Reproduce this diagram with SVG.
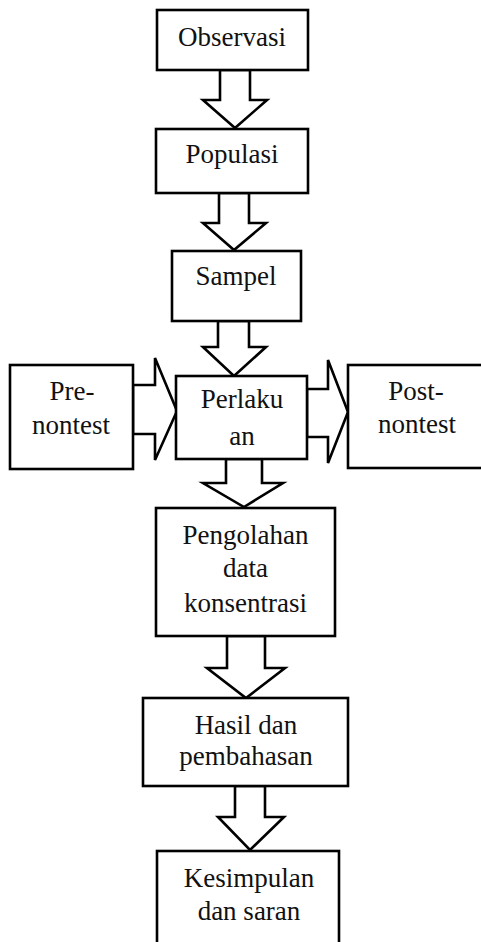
<svg xmlns="http://www.w3.org/2000/svg" width="481" height="942" viewBox="0 0 481 942">
<style>
.box{fill:#fff;stroke:#000;stroke-width:2.6}
.arr{fill:#fff;stroke:#000;stroke-width:2.6;stroke-linejoin:miter}
text{font-family:"Liberation Serif","Times New Roman",serif;font-size:27px;fill:#111;text-anchor:middle}
</style>
<rect width="481" height="942" fill="#fff"/>
<g id="connectors">
<polygon class="arr" points="220,70 220,100 203,100 235,128 267,100 250,100 250,70"/>
<polygon class="arr" points="219,193 219,223 203,223 234,250 266,223 249,223 249,193"/>
<polygon class="arr" points="218,321 218,347 203,347 234,376 266,347 249,347 249,321"/>
<polygon class="arr" points="226,459 226,483 203,483 244,507 283,483 262,483 262,459"/>
<polygon class="arr" points="227,636 227,668 207,668 246,698 285,668 265,668 265,636"/>
<polygon class="arr" points="235,786 235,817 218,817 250,850 284,817 265,817 265,786"/>
<polygon class="arr" points="133,385 155,385 155,358 177,411 155,460 155,434 133,434"/>
<polygon class="arr" points="307,389 328,389 328,360 348,412 328,463 328,437 307,437"/>
</g>
<g id="observasi"><rect class="box" x="157" y="10" width="151" height="60"/><text x="232" y="46">Observasi</text></g>
<g id="populasi"><rect class="box" x="156" y="129" width="152" height="64"/><text x="232" y="163">Populasi</text></g>
<g id="sampel"><rect class="box" x="172" y="251" width="129" height="70"/><text x="236" y="285">Sampel</text></g>
<g id="perlakuan"><rect class="box" x="176" y="376" width="131" height="83"/><text x="242" y="408">Perlaku</text><text x="242" y="445">an</text></g>
<g id="pre-nontest"><rect class="box" x="10" y="365" width="123" height="104"/><text x="72" y="400">Pre-</text><text x="71" y="434">nontest</text></g>
<g id="post-nontest"><rect class="box" x="348" y="365" width="140" height="103"/><text x="416" y="400">Post-</text><text x="417" y="433">nontest</text></g>
<g id="pengolahan"><rect class="box" x="156" y="508" width="179" height="128"/><text x="245.5" y="544">Pengolahan</text><text x="245.5" y="577">data</text><text x="245.5" y="612">konsentrasi</text></g>
<g id="hasil"><rect class="box" x="143" y="698" width="205" height="88"/><text x="246" y="734">Hasil dan</text><text x="246" y="765">pembahasan</text></g>
<g id="kesimpulan"><rect class="box" x="157" y="851" width="182" height="100"/><text x="249" y="887">Kesimpulan</text><text x="249" y="920">dan saran</text></g>
</svg>
